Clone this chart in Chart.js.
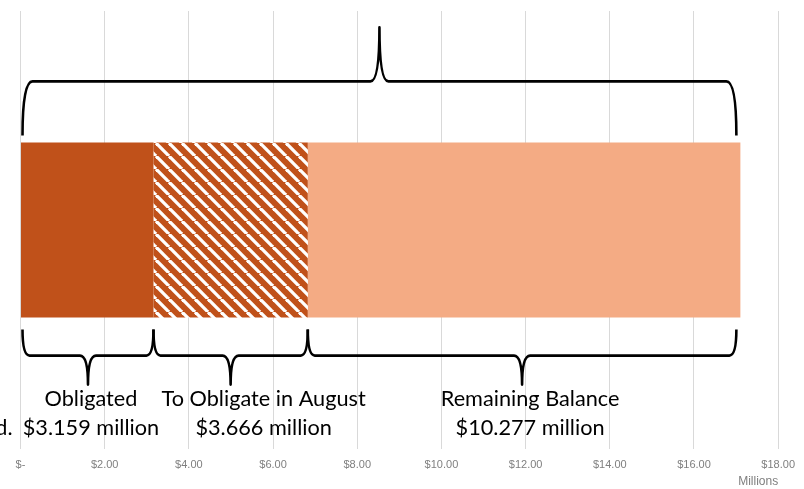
<!DOCTYPE html>
<html>
<head>
<meta charset="utf-8">
<script src="https://cdn.jsdelivr.net/npm/chart.js@4.4.1/dist/chart.umd.min.js"></script>
<style>
	body { margin: 0; background: #fff; }
	#wrap { width: 804px; height: 489px; }
</style>
</head>
<body>
<div id="wrap"><canvas id="fundsChart" width="804" height="489"></canvas></div>
<script>
var categories = ["Funds"];
var obligated = [3.159];
var toObligate = [3.666];
var remaining = [10.277];
var segmentNames = ["Obligated", "To Obligate in August", "Remaining Balance"];
var xTickStep = 2;
var xMax = 18;

function makeHatch() {
	var c = document.createElement('canvas');
	c.width = 13;
	c.height = 13;
	var g = c.getContext('2d');
	g.fillStyle = "#C0511A";
	g.fillRect(0, 0, 13, 13);
	g.strokeStyle = "#ffffff";
	g.lineWidth = 3.3;
	[-13, 0, 13].forEach(function(o) {
		g.beginPath();
		g.moveTo(o, 0);
		g.lineTo(o + 13, 13);
		g.stroke();
	});
	return g.createPattern(c, 'repeat');
}

// curly brace, tip pointing away from the bar
function brace(ctx, x1, x2, yEnd, yMid, yTip, r, tw) {
	var xm = (x1 + x2) / 2;
	ctx.beginPath();
	ctx.moveTo(x1, yEnd);
	ctx.quadraticCurveTo(x1, yMid, x1 + r, yMid);
	ctx.lineTo(xm - tw, yMid);
	ctx.quadraticCurveTo(xm, yMid, xm, yTip);
	ctx.quadraticCurveTo(xm, yMid, xm + tw, yMid);
	ctx.lineTo(x2 - r, yMid);
	ctx.quadraticCurveTo(x2, yMid, x2, yEnd);
	ctx.stroke();
}

var bracePlugin = {
	id: 'braces',
	afterDatasetsDraw: function(chart) {
		var ctx = chart.ctx;
		var xs = chart.scales.x;
		var bar = chart.getDatasetMeta(0).data[0];
		var top = bar.y - bar.height / 2;
		var bottom = bar.y + bar.height / 2;
		var vals = [obligated[0], toObligate[0], remaining[0]];
		var edges = [0];
		for (var i = 0; i < vals.length; i++) edges.push(edges[i] + vals[i]);
		var px = edges.map(function(v) { return xs.getPixelForValue(v); });

		ctx.save();
		ctx.strokeStyle = "#000";
		ctx.lineWidth = 2.6;
		ctx.lineJoin = 'round';
		brace(ctx, px[0] + 2, px[3] - 4, top - 7, top - 61, top - 115, 10, 9);

		for (var k = 0; k < 3; k++) {
			var a = (k == 0) ? px[0] + 2 : px[k];
			var b = (k == 2) ? px[3] - 4 : px[k + 1];
			brace(ctx, a, b, bottom + 12, bottom + 38, bottom + 67, 7, 8);
		}

		var offs = [4, 33, 6];
		ctx.fillStyle = "#000";
		ctx.font = "21.7px Lato";
		ctx.textAlign = 'center';
		ctx.textBaseline = 'middle';
		for (var j = 0; j < 3; j++) {
			var cx = (px[j] + px[j + 1]) / 2 + offs[j];
			ctx.fillText(segmentNames[j], cx, bottom + 81);
			ctx.fillText("$" + vals[j].toFixed(3) + " million", cx, bottom + 110);
		}
		ctx.textAlign = 'right';
		ctx.fillText("d.", px[0] - 8, bottom + 110);
		ctx.restore();
	}
};

var ctx = document.getElementById('fundsChart').getContext('2d');
var fundsChart = new Chart(ctx, {
	type: 'bar',
	data: {
		labels: categories,
		datasets: [{
			label: segmentNames[0],
			data: obligated,
			backgroundColor: "#C0511A"
		}, {
			label: segmentNames[1],
			data: toObligate,
			backgroundColor: makeHatch()
		}, {
			label: segmentNames[2],
			data: remaining,
			backgroundColor: "#F4AB84"
		}]
	},
	options: {
		indexAxis: 'y',
		responsive: false,
		animation: false,
		layout: { padding: { left: 20.5, right: 24.5, top: 11, bottom: 0 } },
		datasets: { bar: { categoryPercentage: 1, barPercentage: 0.4, borderWidth: 0 } },
		plugins: {
			legend: { display: false },
			tooltip: { enabled: false }
		},
		scales: {
			y: { stacked: true, display: false },
			x: {
				stacked: true,
				min: 0,
				max: xMax,
				border: { display: false },
				grid: { color: "#d9d9d9", lineWidth: 1, drawTicks: false },
				afterFit: function(scale) { scale.height = 40; },
				ticks: {
					stepSize: xTickStep,
					padding: 9,
					color: "#7f7f7f",
					font: { family: "Liberation Sans", size: 11 },
					callback: function(v) { return v == 0 ? "$-" : "$" + v.toFixed(2); }
				},
				title: {
					display: true,
					text: "Millions",
					align: 'end',
					color: "#7f7f7f",
					padding: { top: 5, bottom: 0 },
					font: { family: "Liberation Sans", size: 12 }
				}
			}
		}
	},
	plugins: [bracePlugin]
});
</script>
</body>
</html>
